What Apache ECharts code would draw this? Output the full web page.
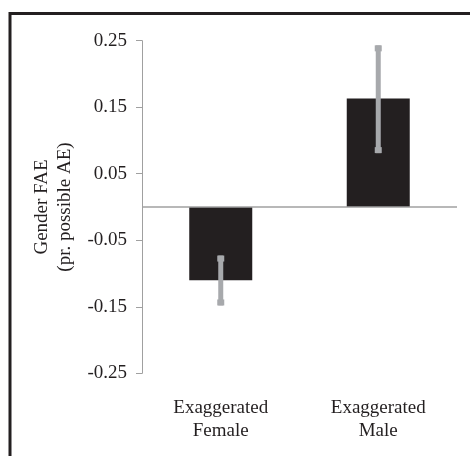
<!DOCTYPE html>
<html>
<head>
<meta charset="utf-8">
<script src="https://cdn.jsdelivr.net/npm/echarts@6/dist/echarts.min.js"></script>
<style>html,body{margin:0;padding:0;background:#fff;}#c{width:470px;height:456px;}</style>
</head>
<body>
<div id="c"></div>
<script>
const categories = ['Exaggerated\nFemale', 'Exaggerated\nMale'];
const means = [-0.11, 0.163];
const errLow = [-0.148, 0.081];
const errHigh = [-0.073, 0.243];
const yTicks = [-0.25, -0.15, -0.05, 0.05, 0.15, 0.25];

const chart = echarts.init(document.getElementById('c'), null, {renderer: 'canvas'});
const font = 'Liberation Serif';
const errData = categories.map((c, i) => [i, errLow[i], errHigh[i]]);

chart.setOption({
  animation: false,
  backgroundColor: '#fff',
  grid: {left: 142, right: 13, top: 40.7, bottom: 82.7, containLabel: false},
  graphic: [{
    type: 'rect', shape: {x: 10, y: 13.5, width: 600, height: 600},
    style: {fill: 'none', stroke: '#231f20', lineWidth: 3}, silent: true
  }],
  xAxis: {
    type: 'category', data: categories,
    axisLine: {show: false, onZero: false}, axisTick: {show: false},
    axisLabel: {fontFamily: font, fontSize: 19, color: '#231f20', lineHeight: 23, margin: 23}
  },
  yAxis: {
    type: 'value', min: yTicks[0], max: yTicks[yTicks.length - 1], interval: 0.1,
    name: 'Gender FAE\n(pr. possible AE)', nameLocation: 'middle', nameGap: 65,
    nameTextStyle: {fontFamily: font, fontSize: 19, color: '#231f20', lineHeight: 23},
    axisLine: {show: true, lineStyle: {color: '#a0a0a0', width: 1}},
    axisTick: {show: true, length: 6, lineStyle: {color: '#a0a0a0'}},
    splitLine: {show: false},
    axisLabel: {fontFamily: font, fontSize: 19, color: '#231f20', margin: 15,
      formatter: v => (Math.abs(v) < 1e-9 ? 0 : v).toFixed(2)}
  },
  series: [{
    type: 'bar', data: means, barWidth: '40%',
    itemStyle: {color: '#231f20'},
    markLine: {
      silent: true, symbol: ['none', 'none'], label: {show: false},
      lineStyle: {color: '#a0a0a0', width: 1.5, type: 'solid'},
      data: [{yAxis: 0}]
    }
  }, {
    type: 'custom', data: errData, z: 5,
    renderItem: function (params, api) {
      const x = api.value(0);
      const lo = api.coord([x, api.value(1)]);
      const hi = api.coord([x, api.value(2)]);
      const col = '#a7a9ac';
      return {
        type: 'group', children: [
          {type: 'rect', shape: {x: lo[0] - 2.5, y: hi[1], width: 5, height: lo[1] - hi[1]}, style: {fill: col}},
          {type: 'rect', shape: {x: lo[0] - 3.5, y: hi[1], width: 7, height: 6}, style: {fill: col}},
          {type: 'rect', shape: {x: lo[0] - 3.5, y: lo[1] - 6, width: 7, height: 6}, style: {fill: col}}
        ]
      };
    }
  }]
});
</script>
</body>
</html>
